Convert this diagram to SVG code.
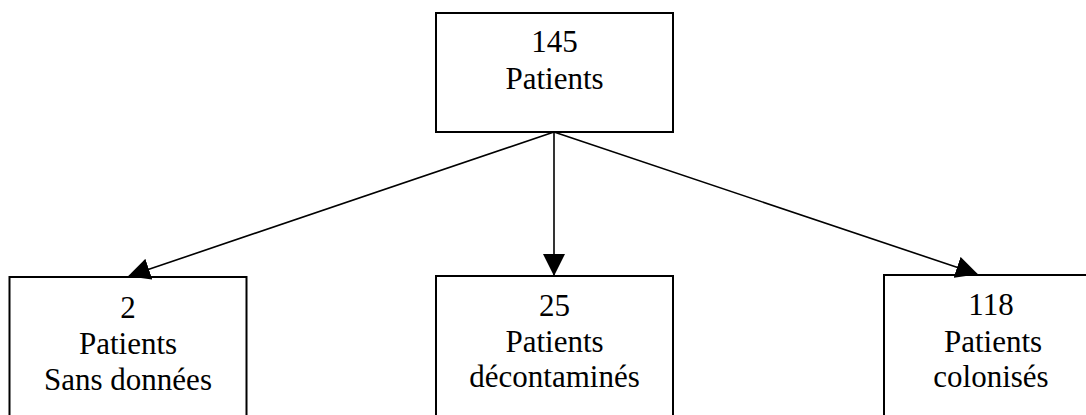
<svg xmlns="http://www.w3.org/2000/svg" width="1086" height="415" viewBox="0 0 1086 415">
<style>
.box{fill:#fff;stroke:#000;stroke-width:2}
.t{font-family:"Liberation Serif","Times New Roman",serif;font-size:31px;fill:#000;text-anchor:middle}
.c{stroke:#000;stroke-width:1.6;fill:none}
</style>
<defs>
<marker id="ah" markerWidth="22" markerHeight="22" viewBox="0 0 22 22" refX="21" refY="11" orient="auto" markerUnits="userSpaceOnUse">
<path d="M0,0 L22,11 L0,22 Z" fill="#000"/>
</marker>
</defs>
<rect width="1086" height="415" fill="#fff"/>
<g id="n145">
<rect class="box" x="436" y="13" width="237" height="119"/>
<text class="t" x="554.5" y="52">145</text>
<text class="t" x="554.5" y="89">Patients</text>
</g>
<g id="n2">
<rect class="box" x="9.5" y="277" width="237" height="160"/>
<text class="t" x="128" y="318">2</text>
<text class="t" x="128" y="354">Patients</text>
<text class="t" x="128" y="390">Sans données</text>
</g>
<g id="n25">
<rect class="box" x="436" y="276" width="237" height="160"/>
<text class="t" x="554.5" y="316">25</text>
<text class="t" x="554.5" y="352">Patients</text>
<text class="t" x="554.5" y="387">décontaminés</text>
</g>
<g id="n118">
<rect class="box" x="884" y="275" width="220" height="160"/>
<text class="t" x="991" y="315">118</text>
<text class="t" x="993" y="352">Patients</text>
<text class="t" x="991" y="387">colonisés</text>
</g>
<g id="connectors">
<line class="c" x1="554" y1="132" x2="129" y2="276" marker-end="url(#ah)"/>
<line class="c" x1="554" y1="132" x2="554" y2="275" marker-end="url(#ah)"/>
<line class="c" x1="554" y1="132" x2="977" y2="274" marker-end="url(#ah)"/>
</g>
</svg>
